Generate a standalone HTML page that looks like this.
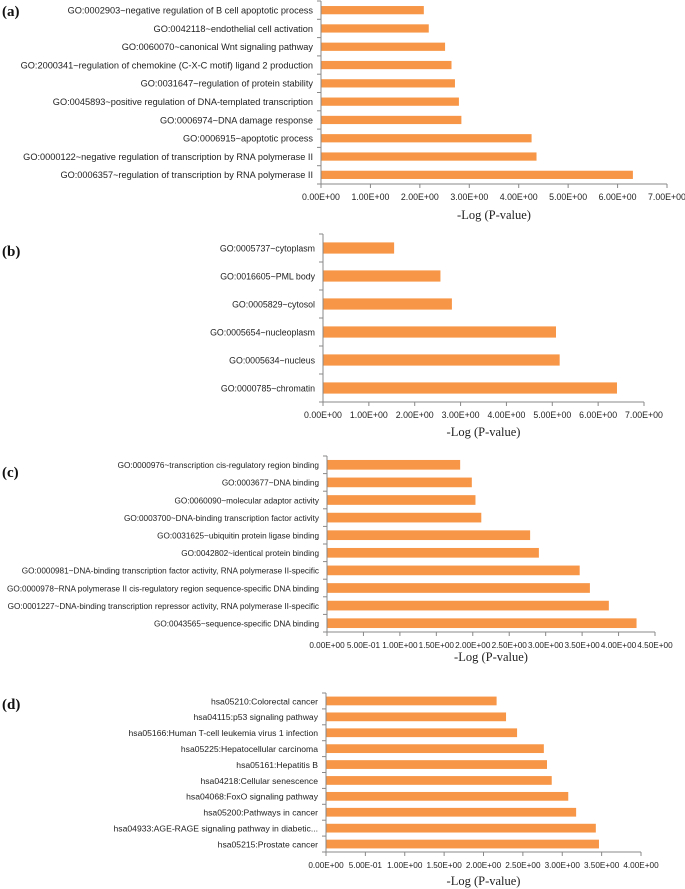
<!DOCTYPE html>
<html><head><meta charset="utf-8"><style>
html,body{margin:0;padding:0;background:#fff;}
svg{display:block;}
.lbl{font-family:"Liberation Sans",sans-serif;fill:#222;}
.tick{font-family:"Liberation Sans",sans-serif;fill:#222;}
.title{font-family:"Liberation Serif",serif;font-size:12.5px;fill:#222;}
.pl{font-family:"Liberation Serif",serif;font-size:15px;font-weight:bold;fill:#111;}
</style></head><body>
<svg id="chart" width="685" height="889" viewBox="0 0 685 889">
<text class="pl" x="2" y="16">(a)</text>
<text class="pl" x="2" y="256">(b)</text>
<text class="pl" x="2" y="477">(c)</text>
<text class="pl" x="2" y="709">(d)</text>
</svg>
<script>
const catsA = ["GO:0002903~negative regulation of B cell apoptotic process","GO:0042118~endothelial cell activation","GO:0060070~canonical Wnt signaling pathway","GO:2000341~regulation of chemokine (C-X-C motif) ligand 2 production","GO:0031647~regulation of protein stability","GO:0045893~positive regulation of DNA-templated transcription","GO:0006974~DNA damage response","GO:0006915~apoptotic process","GO:0000122~negative regulation of transcription by RNA polymerase II","GO:0006357~regulation of transcription by RNA polymerase II"];
const valsA = [2.07,2.17,2.5,2.63,2.7,2.78,2.83,4.25,4.35,6.3];
const ticksA = ["0.00E+00","1.00E+00","2.00E+00","3.00E+00","4.00E+00","5.00E+00","6.00E+00","7.00E+00"];
const catsB = ["GO:0005737~cytoplasm","GO:0016605~PML body","GO:0005829~cytosol","GO:0005654~nucleoplasm","GO:0005634~nucleus","GO:0000785~chromatin"];
const valsB = [1.54,2.55,2.8,5.07,5.15,6.4];
const ticksB = ["0.00E+00","1.00E+00","2.00E+00","3.00E+00","4.00E+00","5.00E+00","6.00E+00","7.00E+00"];
const catsC = ["GO:0000976~transcription cis-regulatory region binding","GO:0003677~DNA binding","GO:0060090~molecular adaptor activity","GO:0003700~DNA-binding transcription factor activity","GO:0031625~ubiquitin protein ligase binding","GO:0042802~identical protein binding","GO:0000981~DNA-binding transcription factor activity, RNA polymerase II-specific","GO:0000978~RNA polymerase II cis-regulatory region sequence-specific DNA binding","GO:0001227~DNA-binding transcription repressor activity, RNA polymerase II-specific","GO:0043565~sequence-specific DNA binding"];
const valsC = [1.82,1.98,2.03,2.11,2.78,2.9,3.46,3.6,3.86,4.24];
const ticksC = ["0.00E+00","5.00E-01","1.00E+00","1.50E+00","2.00E+00","2.50E+00","3.00E+00","3.50E+00","4.00E+00","4.50E+00"];
const catsD = ["hsa05210:Colorectal cancer","hsa04115:p53 signaling pathway","hsa05166:Human T-cell leukemia virus 1 infection","hsa05225:Hepatocellular carcinoma","hsa05161:Hepatitis B","hsa04218:Cellular senescence","hsa04068:FoxO signaling pathway","hsa05200:Pathways in cancer","hsa04933:AGE-RAGE signaling pathway in diabetic...","hsa05215:Prostate cancer"];
const valsD = [2.16,2.28,2.42,2.76,2.8,2.86,3.07,3.17,3.42,3.46];
const ticksD = ["0.00E+00","5.00E-01","1.00E+00","1.50E+00","2.00E+00","2.50E+00","3.00E+00","3.50E+00","4.00E+00"];

const NS = "http://www.w3.org/2000/svg";
const svg = document.getElementById("chart");
function mk(tag, attrs, parent){const e=document.createElementNS(NS,tag);for(const k in attrs)e.setAttribute(k,attrs[k]);parent.appendChild(e);return e;}

function draw(id, cats, vals, ticks, step, cfg){
  const g = mk("g",{},svg);
  
  
  const max = step*(ticks.length-1);
  const x = v => cfg.x0 + (cfg.x1-cfg.x0)*v/max;
  const n = cats.length;
  const band = (cfg.yb-cfg.yt)/n;
  const y = i => cfg.yt + band*(i+0.5);
  const bh = band*cfg.bf;
  const ya = mk("line",{x1:cfg.x0,x2:cfg.x0,y1:cfg.yt,y2:cfg.yb,stroke:"#888","stroke-width":1},g);
  
  
  const xa = mk("line",{x1:cfg.x0,x2:cfg.x1,y1:cfg.yb,y2:cfg.yb,stroke:"#888","stroke-width":1},g);
  
  
  for(let i=0;i<=n;i++){
    const yy=cfg.yt+band*i;
    mk("line",{x1:cfg.x0-4,x2:cfg.x0,y1:yy,y2:yy,stroke:"#888"},g);
  }
  ticks.forEach((t,i)=>{
    const xx=x(step*i);
    mk("line",{x1:xx,x2:xx,y1:cfg.yb,y2:cfg.yb+4,stroke:"#888"},g);
    const tx=mk("text",{class:"tick","text-anchor":"middle",x:xx,y:cfg.yb+16,"font-size":cfg.tf},g);
    tx.textContent=t;
    
    
  });
  cats.forEach((c,i)=>{
    const r=mk("rect",{x:cfg.x0+0.5,y:y(i)-bh/2,width:x(vals[i])-cfg.x0,height:bh,fill:"#F79646"},g);
    
    
    const t=mk("text",{class:"lbl","text-anchor":"end",x:cfg.x0-8,y:y(i)+3.3,"font-size":cfg.lf},g);
    t.textContent=c;
    
    
  });
  const ti=mk("text",{class:"title","text-anchor":"middle",x:(cfg.x0+cfg.x1)/2,y:cfg.ty},g);
  ti.textContent="-Log (P-value)";
  
  
}
draw("a",catsA,valsA,ticksA,1,{x0:321,x1:667,yt:1,yb:184,bf:0.45,ty:219,lf:9.2,tf:8.8});
draw("b",catsB,valsB,ticksB,1,{x0:323,x1:644,yt:234,yb:402,bf:0.4,ty:436,lf:8.8,tf:8.8});
draw("c",catsC,valsC,ticksC,0.5,{x0:327,x1:655,yt:456,yb:632,bf:0.55,ty:661,lf:8.2,tf:8.2});
draw("d",catsD,valsD,ticksD,0.5,{x0:326,x1:641,yt:693,yb:852,bf:0.55,ty:885,lf:8.6,tf:8.2});
</script>
</body></html>
